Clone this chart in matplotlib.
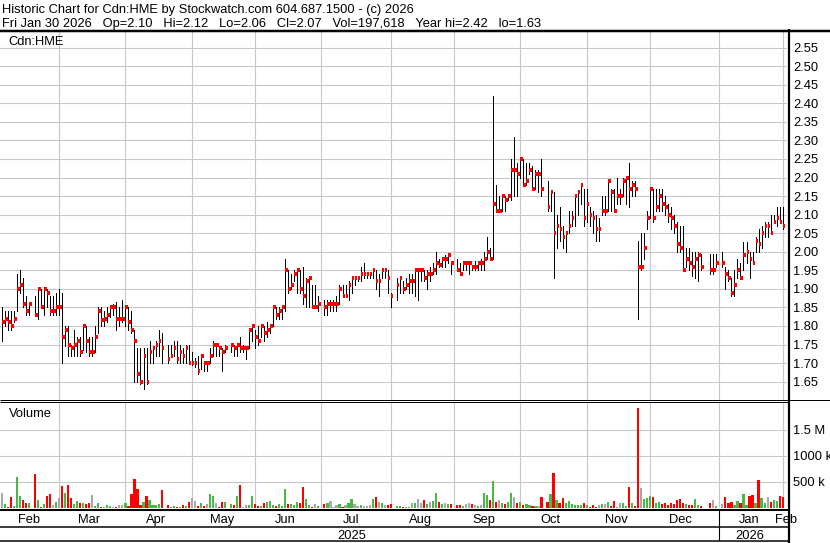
import numpy as np
import pandas as pd
import matplotlib
matplotlib.use('Agg')
import matplotlib.pyplot as plt
from matplotlib.lines import Line2D

W, H = 830, 543
FONT = 'Liberation Sans'
FS = 9.3
GRID = '#c8c8c8'
UP, DOWN, FLAT = '#46b946', '#ff0000', '#a8a8a8'

FIRST_DAY = '2025-02-03'
LAST_DAY = '2026-01-30'
# exchange holidays keep an empty slot on the weekday axis
HOLIDAYS = ['2025-02-17', '2025-04-18', '2025-05-19', '2025-07-01', '2025-08-04',
            '2025-09-01', '2025-10-13', '2025-12-25', '2025-12-26', '2026-01-01']

high = [
    1.85, 1.84, 1.84, 1.84, 1.84, 1.94, 1.95, 1.93, 1.88, 1.86, 1.88, 1.90, 1.90, 1.90, 1.90, 1.88, 1.88, 1.89, 1.90,
    1.89, 1.80, 1.80, 1.75, 1.79, 1.77, 1.77, 1.80, 1.80, 1.77, 1.77, 1.80, 1.85, 1.85, 1.84, 1.85, 1.85, 1.86, 1.865, 1.85, 1.87,
    1.85, 1.85, 1.84, 1.79, 1.74, 1.74, 1.74, 1.74, 1.76, 1.74, 1.76, 1.79, 1.78, 1.75, 1.75, 1.76, 1.76, 1.75, 1.74, 1.75, 1.75,
    1.73, 1.715, 1.72, 1.72, 1.70, 1.70, 1.74, 1.76, 1.75, 1.74, 1.74, 1.75, 1.75, 1.75, 1.75, 1.77, 1.75, 1.74, 1.79, 1.80, 1.79,
    1.80, 1.80, 1.80, 1.81, 1.80, 1.85, 1.85, 1.85, 1.85, 1.98, 1.95, 1.94, 1.95, 1.95, 1.95, 1.96, 1.93, 1.93, 1.91, 1.91, 1.88,
    1.87, 1.87, 1.87, 1.87, 1.88, 1.91, 1.91, 1.91, 1.92, 1.93, 1.93, 1.93, 1.96, 1.97, 1.94, 1.94, 1.95, 1.95, 1.94, 1.95, 1.95, 1.95,
    1.89, 1.93, 1.93, 1.92, 1.93, 1.94, 1.94, 1.95, 1.95, 1.95, 1.95, 1.95, 1.96, 1.97, 2.00, 1.98, 1.98, 1.99, 1.99, 1.97,
    1.98, 1.97, 1.97, 1.97, 1.975, 1.96, 1.975, 1.975, 1.98, 2.00, 2.04, 2.01, 2.42, 2.18, 2.15, 2.15, 2.15, 2.15, 2.25, 2.31, 2.24,
    2.25, 2.25, 2.24, 2.24, 2.23, 2.22, 2.22, 2.25, 2.19, 2.16, 2.16, 2.10, 2.12, 2.07, 2.05, 2.11, 2.11, 2.15, 2.16, 2.18, 2.17, 2.17,
    2.12, 2.11, 2.10, 2.09, 2.15, 2.15, 2.19, 2.17, 2.17, 2.20, 2.17, 2.20, 2.20, 2.24, 2.19, 2.19, 2.03, 2.05, 2.05, 2.11,
    2.17, 2.17, 2.17, 2.17, 2.17, 2.15, 2.13, 2.12, 2.10, 2.08, 2.07, 2.07, 2.01, 2.01, 2.00, 2.00, 2.00, 1.995, 1.995, 1.995, 1.995,
    2.00, 1.96, 1.95, 1.93, 1.95, 1.98, 1.97, 2.025, 2.025, 2.00, 2.00, 2.04, 2.06, 2.07, 2.08, 2.08, 2.10, 2.10, 2.12, 2.12, 2.12,
]
low = [
    1.76, 1.80, 1.79, 1.79, 1.81, 1.84, 1.89, 1.85, 1.83, 1.83, 1.83, 1.82, 1.85, 1.83, 1.85, 1.83, 1.83, 1.83, 1.83,
    1.70, 1.745, 1.72, 1.72, 1.72, 1.72, 1.72, 1.735, 1.73, 1.72, 1.72, 1.73, 1.78, 1.80, 1.80, 1.81, 1.825, 1.83, 1.79, 1.80, 1.81,
    1.80, 1.79, 1.78, 1.65, 1.65, 1.645, 1.63, 1.645, 1.70, 1.70, 1.72, 1.72, 1.70, 1.70, 1.72, 1.72, 1.70, 1.70, 1.70, 1.70, 1.70,
    1.695, 1.69, 1.67, 1.685, 1.68, 1.68, 1.70, 1.72, 1.72, 1.72, 1.68, 1.73, 1.73, 1.72, 1.72, 1.73, 1.73, 1.71, 1.74, 1.76, 1.74,
    1.75, 1.77, 1.76, 1.77, 1.78, 1.80, 1.82, 1.82, 1.82, 1.84, 1.89, 1.90, 1.92, 1.89, 1.89, 1.86, 1.85, 1.85, 1.85, 1.85, 1.84,
    1.83, 1.83, 1.84, 1.84, 1.84, 1.86, 1.88, 1.88, 1.87, 1.89, 1.91, 1.92, 1.92, 1.93, 1.93, 1.93, 1.93, 1.90, 1.88, 1.93, 1.93, 1.89,
    1.85, 1.87, 1.89, 1.89, 1.90, 1.89, 1.89, 1.88, 1.87, 1.92, 1.92, 1.90, 1.92, 1.94, 1.94, 1.96, 1.96, 1.96, 1.97, 1.94,
    1.95, 1.94, 1.95, 1.95, 1.94, 1.95, 1.95, 1.95, 1.95, 1.95, 1.98, 1.98, 1.98, 2.11, 2.11, 2.11, 2.11, 2.14, 2.14, 2.15, 2.15,
    2.20, 2.18, 2.18, 2.21, 2.17, 2.17, 2.16, 2.15, 2.11, 2.11, 1.93, 2.01, 2.03, 2.01, 2.00, 2.05, 2.07, 2.07, 2.10, 2.13, 2.07, 2.08,
    2.07, 2.05, 2.03, 2.03, 2.10, 2.10, 2.11, 2.11, 2.11, 2.13, 2.13, 2.15, 2.13, 2.12, 2.15, 2.15, 1.82, 1.95, 1.98, 2.06,
    2.09, 2.08, 2.11, 2.11, 2.11, 2.10, 2.08, 2.06, 2.05, 2.00, 2.00, 1.95, 1.96, 1.95, 1.935, 1.93, 1.92, 1.95, 1.94, 1.94, 1.96,
    1.96, 1.90, 1.92, 1.88, 1.88, 1.93, 1.93, 1.95, 1.97, 1.93, 1.97, 2.00, 2.00, 2.01, 2.04, 2.04, 2.05, 2.08, 2.07, 2.08, 2.06,
]
close = [
    1.81, 1.82, 1.81, 1.80, 1.82, 1.90, 1.91, 1.86, 1.84, 1.86, 1.83, 1.90, 1.85, 1.90, 1.89, 1.84, 1.84, 1.85, 1.85,
    1.77, 1.79, 1.75, 1.74, 1.75, 1.76, 1.73, 1.80, 1.76, 1.73, 1.73, 1.77, 1.84, 1.815, 1.82, 1.83, 1.85, 1.85, 1.82, 1.82, 1.82,
    1.85, 1.81, 1.79, 1.76, 1.67, 1.65, 1.72, 1.65, 1.73, 1.74, 1.75, 1.76, 1.74, 1.71, 1.72, 1.74, 1.71, 1.73, 1.72, 1.74, 1.70,
    1.70, 1.70, 1.68, 1.72, 1.70, 1.70, 1.72, 1.75, 1.75, 1.74, 1.73, 1.74, 1.75, 1.74, 1.75, 1.74, 1.74, 1.74, 1.79, 1.80, 1.77,
    1.76, 1.80, 1.78, 1.79, 1.80, 1.85, 1.83, 1.84, 1.85, 1.95, 1.90, 1.91, 1.94, 1.95, 1.90, 1.88, 1.92, 1.93, 1.85, 1.85, 1.86,
    1.85, 1.86, 1.86, 1.86, 1.86, 1.90, 1.88, 1.88, 1.91, 1.93, 1.93, 1.93, 1.94, 1.94, 1.94, 1.94, 1.95, 1.92, 1.92, 1.95, 1.95, 1.93,
    1.88, 1.91, 1.93, 1.90, 1.91, 1.92, 1.92, 1.95, 1.95, 1.95, 1.93, 1.94, 1.94, 1.95, 1.97, 1.965, 1.98, 1.98, 1.99, 1.97,
    1.95, 1.94, 1.97, 1.97, 1.97, 1.96, 1.96, 1.97, 1.97, 1.98, 2.00, 1.98, 2.13, 2.11, 2.11, 2.15, 2.14, 2.15, 2.22, 2.22, 2.21,
    2.25, 2.18, 2.19, 2.22, 2.17, 2.21, 2.21, 2.17, 2.12, 2.16, 2.05, 2.07, 2.06, 2.04, 2.05, 2.07, 2.09, 2.15, 2.16, 2.18, 2.09, 2.13,
    2.10, 2.09, 2.06, 2.06, 2.11, 2.11, 2.19, 2.16, 2.11, 2.15, 2.15, 2.19, 2.20, 2.17, 2.18, 2.17, 1.96, 1.96, 2.01, 2.09,
    2.17, 2.09, 2.12, 2.15, 2.13, 2.12, 2.10, 2.09, 2.07, 2.02, 2.01, 1.95, 1.98, 1.97, 1.96, 1.98, 1.99, 1.96, 1.95, 1.95, 1.97,
    1.97, 1.94, 1.93, 1.89, 1.91, 1.95, 1.93, 1.99, 2.00, 1.98, 1.97, 2.03, 2.02, 2.05, 2.07, 2.07, 2.05, 2.08, 2.09, 2.08, 2.07,
]
# thousands of shares
volume_k = [
    282, 70, 10, 200, 25, 583, 218, 147, 90, 90, 641, 141, 10, 70, 224, 256, 45, 103, 180,
    417, 276, 430, 180, 70, 122, 83, 83, 70, 83, 237, 26, 83, 10, 10, 45, 32, 10, 5, 45, 45,
    83, 26, 256, 545, 353, 45, 109, 224, 141, 45, 45, 64, 333, 45, 10, 26, 10, 10, 45, 26, 103,
    180, 122, 26, 83, 26, 64, 256, 218, 83, 10, 103, 103, 64, 45, 218, 430, 10, 45, 45, 218, 64,
    26, 26, 83, 103, 133, 57, 38, 76, 38, 361, 76, 76, 57, 114, 95, 399, 171, 57, 19, 76, 38,
    76, 95, 133, 19, 57, 76, 19, 57, 95, 171, 76, 38, 57, 38, 38, 57, 171, 209, 114, 95, 57, 57,
    76, 38, 38, 19, 10, 19, 95, 95, 171, 95, 152, 76, 114, 133, 285, 114, 76, 95, 76, 76,
    57, 57, 38, 76, 95, 76, 57, 38, 57, 272, 247, 152, 513, 114, 152, 95, 76, 114, 272, 209, 95,
    114, 57, 76, 57, 38, 38, 38, 209, 114, 265, 660, 146, 83, 180, 83, 122, 64, 45, 45, 45, 83, 45,
    10, 45, 5, 45, 64, 64, 103, 26, 122, 10, 83, 83, 26, 391, 83, 26, 1910, 372, 160, 180,
    218, 199, 83, 103, 64, 83, 45, 83, 64, 141, 160, 83, 64, 45, 45, 160, 45, 26, 83, 141, 26,
    64, 199, 83, 103, 45, 122, 83, 256, 45, 218, 237, 83, 526, 180, 83, 199, 103, 141, 122, 218, 198,
]

price_ticks = np.round(np.arange(1.65, 2.551, 0.05), 2)
volume_ticks = [500_000, 1_000_000, 1_500_000]
volume_labels = ['500 k', '1000 k', '1.5 M']

header_1 = 'Historic Chart for Cdn:HME by Stockwatch.com 604.687.1500 - (c) 2026'
header_2 = 'Fri Jan 30 2026   Op=2.10   Hi=2.12   Lo=2.06   Cl=2.07   Vol=197,618   Year hi=2.42   lo=1.63'

plt.rcParams['font.family'] = [FONT, 'DejaVu Sans']
plt.rcParams['font.size'] = FS

weekdays = pd.bdate_range(FIRST_DAY, LAST_DAY)
trade_days = weekdays[~weekdays.isin(pd.to_datetime(HOLIDAYS))]
x = weekdays.get_indexer(trade_days)
high, low, close = np.array(high), np.array(low), np.array(close)
volume = np.array(volume_k) * 1000.0


def slot(date):
    return weekdays.searchsorted(pd.Timestamp(date), side='right') - 1


def rect(left, top, right, bottom):
    return [left / W, 1 - bottom / H, (right - left) / W, (bottom - top) / H]


month_starts = pd.date_range('2025-02-01', '2026-02-01', freq='MS')
grid_x = [slot(d) for d in month_starts[1:]]
label_x = []
for d in month_starts:
    mid = d + pd.Timedelta(days=14)
    label_x.append(slot(mid) if mid <= weekdays[-1] else len(weekdays))

XLIM = (-0.6, 260.43)

fig = plt.figure(figsize=(W / 100, H / 100), dpi=100)

# price panel
ax = fig.add_axes(rect(0, 32, 787, 399.5))
ax.set_xlim(*XLIM)
ax.set_ylim(1.602, 2.592)
ax.set_xticks(grid_x)
ax.set_xticklabels([])
ax.set_yticks(price_ticks)
ax.set_yticklabels([f'{v:.2f}' for v in price_ticks])
ax.yaxis.tick_right()
ax.tick_params(length=0, pad=4.3, labelsize=FS)
ax.grid(True, color=GRID, lw=0.8)
ax.set_axisbelow(True)
for s in ax.spines.values():
    s.set_visible(False)
ax.vlines(x, low, high, colors='black', lw=0.6, antialiased=False, zorder=3)
ax.hlines(close, x, x + 0.9, colors=DOWN, lw=1.45, antialiased=False, zorder=4)

# volume panel
change = np.diff(close, prepend=close[0])
vol_colors = [UP if c > 1e-9 else DOWN if c < -1e-9 else FLAT for c in change]
axv = fig.add_axes(rect(0, 402.5, 787, 507.5))
axv.set_xlim(*XLIM)
axv.set_ylim(0, 2.02e6)
axv.set_xticks(grid_x)
axv.set_xticklabels([])
axv.set_yticks(volume_ticks)
axv.set_yticklabels(volume_labels)
axv.yaxis.tick_right()
axv.tick_params(length=0, pad=4.3, labelsize=FS)
axv.grid(True, color=GRID, lw=0.8)
axv.set_axisbelow(True)
for s in axv.spines.values():
    s.set_visible(False)
axv.bar(x, volume, width=0.72, color=vol_colors, linewidth=0)

# date rows
axd = fig.add_axes(rect(0, 510.8, 787, 540.6))
axd.set_xlim(*XLIM)
axd.set_ylim(0, 1)
axd.set_axis_off()
for pos, d in zip(label_x, month_starts):
    axd.text(pos, 0.6, d.strftime('%b'), ha='center', va='baseline', fontsize=FS, clip_on=False)
axd.text(slot('2025-07-15'), 0.05, '2025', ha='center', va='baseline', fontsize=FS)
axd.text(slot('2026-01-15'), 0.05, '2026', ha='center', va='baseline', fontsize=FS)
axd.axvline(slot('2026-01-01'), color='black', lw=0.8)

fig.text(1.5 / W, 1 - 13.3 / H, header_1, va='baseline', fontsize=FS)
fig.text(1.5 / W, 1 - 27.3 / H, header_2, va='baseline', fontsize=FS)
fig.text(8.3 / W, 1 - 45 / H, 'Cdn:HME', va='baseline', fontsize=FS)
fig.text(9.3 / W, 1 - 416.7 / H, 'Volume', va='baseline', fontsize=FS)


def hline(y, x0, x1, lw):
    fig.add_artist(Line2D([x0 / W, x1 / W], [1 - y / H] * 2, color='black',
                          lw=lw * 0.72, solid_capstyle='butt'))


def vline(xp, y0, y1, lw):
    fig.add_artist(Line2D([xp / W] * 2, [1 - y0 / H, 1 - y1 / H], color='black',
                          lw=lw * 0.72, solid_capstyle='butt'))


hline(30.5, 0, W, 2.5)
hline(399.8, 0, W, 1)
hline(401.8, 0, 789, 1)
hline(509.8, 0, 790, 2)
hline(527.3, 0, 790, 1.5)
hline(541.3, 0, 790, 1.5)
vline(789.2, 29.3, H, 2.2)

fig.savefig('out.png', dpi=100)
